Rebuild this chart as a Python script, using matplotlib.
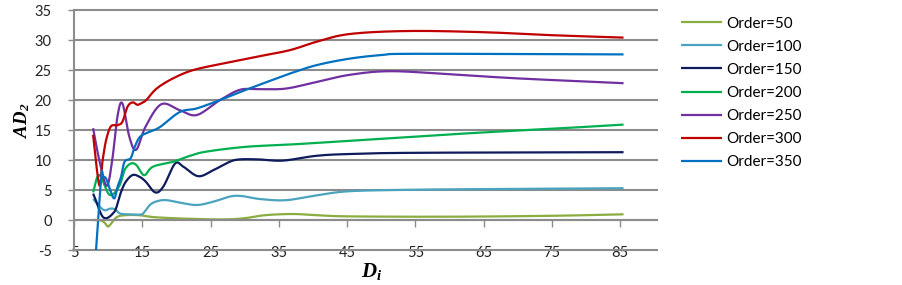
import numpy as np
import matplotlib
matplotlib.use("Agg")
import matplotlib.pyplot as plt

plt.rcParams['font.family'] = ['Lato', 'DejaVu Sans']
plt.rcParams['axes.unicode_minus'] = False
plt.rcParams['mathtext.fontset'] = 'custom'
plt.rcParams['mathtext.it'] = 'Liberation Serif:bold:italic'
plt.rcParams['mathtext.rm'] = 'Liberation Serif:bold:italic'
plt.rcParams['mathtext.default'] = 'it'

# --- data (x = D_i, y = AD_2) ---
labels = ["Order=50", "Order=100", "Order=150", "Order=200",
          "Order=250", "Order=300", "Order=350"]
colors = ["#8AAD3F", "#4BA3BE", "#0E1B5C", "#00B050",
          "#7030A0", "#C00000", "#0070C0"]

x50 = [7.8, 9.0, 9.6, 10.0, 10.5, 11.3, 12.5, 14.5, 17, 22, 27, 30, 33, 37, 40.5, 45.4, 60, 75, 85.5]
y50 = [0.0, -0.1, -0.6, -1.1, -0.5, 0.5, 0.8, 0.8, 0.45, 0.2, 0.1, 0.3, 0.8, 1.0, 0.8, 0.6, 0.55, 0.7, 0.95]

x100 = [7.8, 9.3, 10.3, 11.0, 11.7, 12.7, 14.7, 15.3, 16.2, 17.4, 18.6, 20.5, 23, 25.4, 27.8, 29.5, 32.2, 36, 40.5, 45.4, 55, 65, 85.5]
y100 = [3.5, 1.7, 1.9, 1.8, 1.1, 0.95, 0.9, 1.3, 2.6, 3.2, 3.3, 2.9, 2.5, 3.05, 3.9, 4.0, 3.5, 3.3, 4.1, 4.8, 5.05, 5.15, 5.3]

x150 = [7.8, 8.2, 8.7, 9.2, 9.7, 10.2, 10.7, 11.15, 11.9, 12.6, 13.6, 14.6, 15.5, 16.9, 18.1, 19.8, 21, 23.2, 25.4, 27.8, 29.3, 32, 35.6, 40.5, 45.4, 55, 85.5]
y150 = [4.4, 3.3, 1.7, 0.55, 0.3, 0.55, 1.1, 1.9, 4.7, 6.4, 7.5, 7.2, 6.4, 4.6, 5.6, 9.4, 8.9, 7.3, 8.3, 9.7, 10.1, 10.1, 9.9, 10.7, 11.0, 11.2, 11.3]

x200 = [7.8, 8.7, 10.2, 11.6, 12.4, 13.3, 14.1, 14.8, 15.4, 16.6, 19.5, 22, 24.4, 30.2, 37, 45.4, 55, 65, 75, 85.5]
y200 = [4.6, 7.5, 4.2, 5.6, 8.3, 9.4, 9.2, 8.0, 7.5, 8.9, 9.7, 10.7, 11.4, 12.2, 12.6, 13.2, 13.9, 14.6, 15.2, 15.9]

x250 = [7.8, 8.7, 9.8, 10.6, 11.4, 12.1, 13.1, 14.1, 15.5, 17.8, 20.5, 23, 26.4, 29.3, 32, 36, 40.5, 45.4, 51.3, 60, 70, 85.5]
y250 = [15.3, 10.0, 5.7, 10.0, 17.5, 19.4, 13.9, 11.7, 15.6, 19.3, 18.3, 17.5, 20.0, 21.7, 21.8, 21.9, 23.0, 24.2, 24.8, 24.3, 23.6, 22.8]

x300 = [7.8, 8.7, 9.2, 9.7, 10.4, 11.4, 12.1, 12.85, 13.6, 14.3, 15.05, 15.6, 17.1, 19.5, 22.5, 26.9, 31.7, 36.6, 40.5, 45.4, 54, 65, 75, 85.5]
y300 = [14.2, 5.8, 10.0, 13.3, 15.6, 15.8, 16.4, 18.9, 19.6, 19.2, 19.6, 20.0, 21.9, 23.6, 25.0, 26.1, 27.2, 28.3, 29.7, 31.0, 31.5, 31.3, 30.8, 30.4]

x350 = [7.8, 8.95, 9.2, 9.7, 10.3, 10.9, 11.4, 11.9, 12.4, 13.3, 13.9, 14.7, 16.1, 17.6, 20.5, 23, 26.4, 29.5, 34.2, 36.6, 40.5, 45.4, 50.2, 55.2, 85.5]
y350 = [-12.0, 6.7, 7.2, 6.9, 5.0, 3.6, 5.6, 7.2, 9.7, 10.3, 12.2, 13.9, 14.7, 15.5, 18.0, 18.6, 20.0, 21.4, 23.4, 24.4, 25.8, 26.9, 27.5, 27.7, 27.6]

xs = [x50, x100, x150, x200, x250, x300, x350]
ys = [y50, y100, y150, y200, y250, y300, y350]


def smooth(x, y, n=24):
    # Excel-like smoothed line: Catmull-Rom as cubic Bezier
    p = np.column_stack([x, y]).astype(float)
    p = np.vstack([p[0], p, p[-1]])
    t = np.linspace(0, 1, n)[:, None]
    out = []
    for i in range(1, len(p) - 2):
        p0, p1, p2, p3 = p[i - 1], p[i], p[i + 1], p[i + 2]
        c1 = p1 + (p2 - p0) / 6
        c2 = p2 - (p3 - p1) / 6
        seg = (1 - t) ** 3 * p1 + 3 * (1 - t) ** 2 * t * c1 + 3 * (1 - t) * t ** 2 * c2 + t ** 3 * p2
        out.append(seg if i == 1 else seg[1:])
    out = np.vstack(out)
    return out[:, 0], out[:, 1]


fig = plt.figure(figsize=(9.03, 2.85), dpi=100)
ax = fig.add_axes([74 / 903, 1 - 250 / 285, 583 / 903, 240 / 285])

for x, y, c, lab in zip(xs, ys, colors, labels):
    sx, sy = smooth(x, y)
    ax.plot(sx, sy, color=c, lw=1.6, label=lab, solid_capstyle='butt')

ax.set_xlim(5, 90.4)
ax.set_ylim(-5, 35)
ax.set_xticks(range(5, 86, 10))
ax.set_yticks(range(-5, 36, 5))

grid_c = "#8C8C8C"
ax.grid(axis='y', color=grid_c, lw=1.5, zorder=0)
for gl in ax.get_ygridlines():
    gl.set_clip_on(False)
ax.set_axisbelow(True)

for s in ['top', 'right']:
    ax.spines[s].set_visible(False)
ax.spines['left'].set_color(grid_c)
ax.spines['left'].set_linewidth(1.5)
ax.spines['bottom'].set_position(('data', 0))
ax.spines['bottom'].set_color(grid_c)
ax.spines['bottom'].set_linewidth(1.5)

ax.tick_params(axis='y', length=4, width=1, color=grid_c, pad=12, labelsize=10.5, labelcolor='#222222')
ax.tick_params(axis='x', length=5, width=1, color=grid_c, pad=13.5, labelsize=10.5, labelcolor='#222222')

fig.text(22 / 903, 1 - 120 / 285, r'$AD_2$', rotation=90, fontsize=13.5,
         ha='center', va='center')
fig.text(372 / 903, 1 - 271 / 285, r'$D_i$', fontsize=15,
         ha='center', va='center')

ax.legend(loc='upper left', bbox_to_anchor=(681 / 903, 1 - 16.5 / 285),
          bbox_transform=fig.transFigure, frameon=False, fontsize=11,
          handlelength=2.7, handletextpad=0.28, labelspacing=0.6,
          borderpad=0, borderaxespad=0)

fig.savefig("out.png", dpi=100)
